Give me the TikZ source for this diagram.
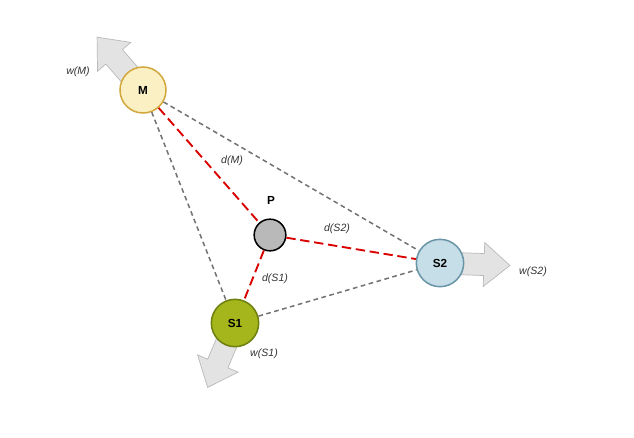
\documentclass[tikz,border=0pt]{standalone}
\usepackage{fontspec}
\setmainfont{Liberation Sans}
\definecolor{sbl}{HTML}{C6DEE8}
\definecolor{sbd}{HTML}{6A96A8}
\definecolor{sgr}{HTML}{A4B61C}
\definecolor{sgd}{HTML}{6F8010}
\definecolor{myl}{HTML}{FBF0C4}
\definecolor{myd}{HTML}{D2A83C}
\begin{document}
\begin{tikzpicture}[x=0.03cm,y=-0.03cm,
  circ/.style={circle,draw,line width=1.3pt,inner sep=0pt,font=\bfseries},
  gline/.style={gray!90!black,line width=1.3pt,dash pattern=on 4pt off 3pt},
  rline/.style={red!85!black,line width=1.6pt,dash pattern=on 8pt off 4pt},
  lab/.style={font=\itshape\small,text=black!80},
  blk/.style={fill=gray!22,draw=gray!55,line width=0.6pt}]
\useasboundingbox (0,0) rectangle (634,437);
\coordinate (Mc) at (143,90);
\coordinate (S2c) at (440,263);
\coordinate (S1c) at (235,323);
\foreach \c/\a in {Mc/131,S2c/-2,S1c/-113} {
  \begin{scope}[shift={(\c)},rotate=\a,x=0.03cm,y=0.03cm]
    \path[blk] (0,-11) -- (44,-11) -- (44,-22) -- (70,0) -- (44,22) -- (44,11) -- (0,11) -- cycle;
  \end{scope}
}
\node[circ,fill=myl,draw=myd,minimum size=1.38cm] (M) at (Mc) {M};
\node[circ,fill=sbl,draw=sbd,minimum size=1.42cm] (S2) at (S2c) {S2};
\node[circ,fill=sgr,draw=sgd,minimum size=1.42cm] (S1) at (S1c) {S1};
\node[circ,fill=gray!55,draw=black,minimum size=0.95cm] (P) at (270,235) {};
\node[font=\bfseries] (Pl) at (271,200) {P};
\draw[gline] (M) -- (S2);
\draw[gline] (M) -- (S1);
\draw[gline] (S1) -- (S2);
\draw[rline] (M) -- (P);
\draw[rline] (P) -- (S2);
\draw[rline] (P) -- (S1);
\node[lab] (wM) at (78,72) {w(M)};
\node[lab] (dM) at (232,161) {d(M)};
\node[lab] (dS2) at (337,229) {d(S2)};
\node[lab] (dS1) at (275,279) {d(S1)};
\node[lab] (wS2) at (533,272) {w(S2)};
\node[lab] (wS1) at (264,354) {w(S1)};
\end{tikzpicture}
\end{document}
